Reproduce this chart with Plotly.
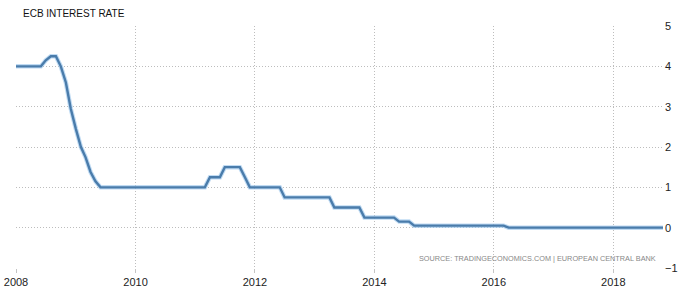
import plotly.graph_objects as go
import pandas as pd

# Monthly ECB interest rate, Jan 2008 .. Nov 2018
start_month = "2008-01-01"
rates = (
    [4.0] * 6 +                 # Jan-Jun 2008
    [4.15, 4.25, 4.25, 4.0, 3.6, 2.95, 2.45, 2.0, 1.75, 1.38, 1.15] +  # Jul 2008 - May 2009
    [1.0] * 22 +                # Jun 2009 - Mar 2011
    [1.25] * 3 +                # Apr-Jun 2011
    [1.5] * 4 +                 # Jul-Oct 2011
    [1.25] +                    # Nov 2011
    [1.0] * 7 +                 # Dec 2011 - Jun 2012
    [0.75] * 10 +               # Jul 2012 - Apr 2013
    [0.5] * 6 +                 # May - Oct 2013
    [0.25] * 7 +                # Nov 2013 - May 2014
    [0.15] * 3 +                # Jun - Aug 2014
    [0.05] * 19 +               # Sep 2014 - Mar 2016
    [0.0] * 32                  # Apr 2016 - Nov 2018
)
dates = pd.date_range(start_month, periods=len(rates), freq="MS")

x_ticks = ["2008-01-01", "2010-01-01", "2012-01-01", "2014-01-01", "2016-01-01", "2018-01-01"]
x_tick_labels = ["2008", "2010", "2012", "2014", "2016", "2018"]
y_ticks = [-1, 0, 1, 2, 3, 4, 5]

title_text = "ECB INTEREST RATE"
source_text = "SOURCE: TRADINGECONOMICS.COM | EUROPEAN CENTRAL BANK"

W, H = 678, 291
ml, mr, mt, mb = 16, 15, 26, 23

fig = go.Figure()
# soft halo under the line
fig.add_trace(go.Scatter(x=dates, y=rates, mode="lines",
                         line=dict(color="rgba(150,195,235,0.6)", width=4.5),
                         hoverinfo="skip", showlegend=False))
fig.add_trace(go.Scatter(x=dates, y=rates, mode="lines",
                         line=dict(color="#4a7cab", width=2.4),
                         showlegend=False))

font_family = "Liberation Sans, Arial, sans-serif"
grid_dash = "1px,2px"
fig.update_layout(
    width=W, height=H,
    margin=dict(l=ml, r=mr, t=mt, b=mb, pad=0, autoexpand=False),
    paper_bgcolor="white", plot_bgcolor="white",
    font=dict(family=font_family, size=11, color="#333333"),
    title=dict(text=title_text, xref="container", yref="container",
               x=23 / W, y=1 - 13 / H, xanchor="left", yanchor="middle",
               pad=dict(l=0, r=0, t=0, b=0),
               font=dict(size=10, color="#111111", family=font_family)),
    xaxis=dict(
        type="date", automargin=False,
        range=[dates[0], dates[-1]],
        tickvals=x_ticks, ticktext=x_tick_labels,
        showgrid=True, gridcolor="#bdbdbd", griddash=grid_dash, gridwidth=1,
        ticks="outside", ticklen=4, tickcolor="#c4c4c4", tickwidth=1,
        showline=False, zeroline=False,
        tickfont=dict(size=11, color="#222222"),
    ),
    yaxis=dict(
        range=[-1, 5], side="right", automargin=False,
        tickvals=y_ticks,
        showgrid=True, gridcolor="#bdbdbd", griddash=grid_dash, gridwidth=1,
        zeroline=False, showline=False, ticks="",
        ticklabelstandoff=1,
        tickfont=dict(size=11, color="#222222"),
    ),
    annotations=[
        dict(text=source_text, xref="paper", yref="y",
             x=(658 - ml) / (W - ml - mr), y=-0.77,
             xanchor="right", yanchor="middle", showarrow=False,
             font=dict(size=7.3, color="#888888", family=font_family)),
    ],
)

fig.write_html("out.html")
